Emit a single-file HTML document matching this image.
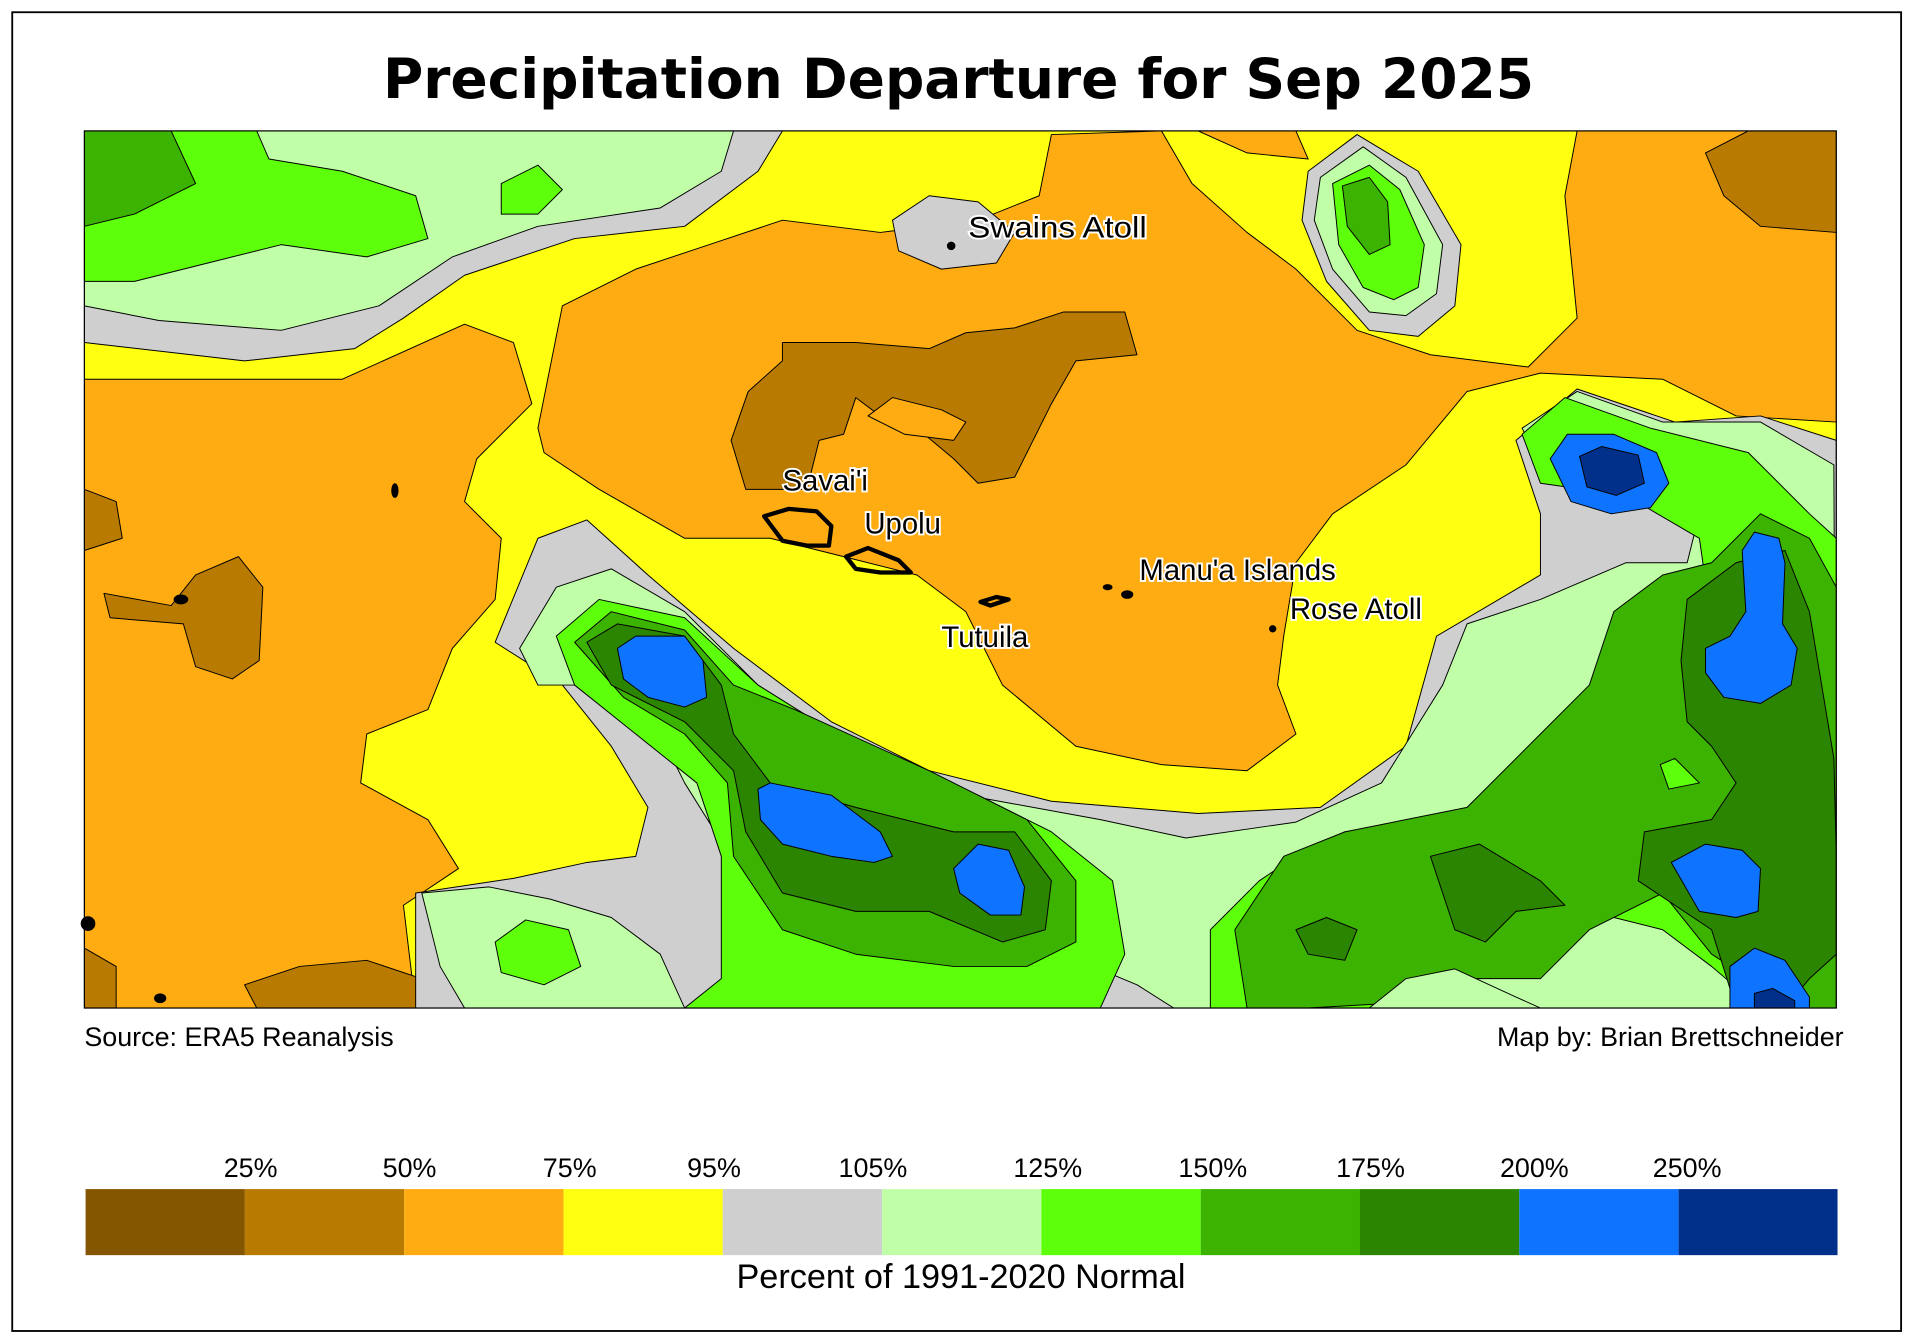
<!DOCTYPE html>
<html><head><meta charset="utf-8"><style>html,body{margin:0;padding:0;background:#fff}svg{display:block}</style></head><body>
<svg width="1917" height="1342" viewBox="0 0 1568 1097" preserveAspectRatio="none" xmlns="http://www.w3.org/2000/svg">
<rect x="0" y="0" width="1568" height="1097" fill="#fff"/>
<rect x="10" y="10" width="1545" height="1078" fill="none" stroke="#000" stroke-width="1.5"/>
<text x="784" y="80" text-anchor="middle" font-family="DejaVu Sans, Liberation Sans, sans-serif" font-weight="bold" font-size="45">Precipitation Departure for Sep 2025</text>
<defs><clipPath id="m"><rect x="69" y="107" width="1433" height="717"/></clipPath></defs>
<g clip-path="url(#m)" stroke="#000" stroke-width="0.8" stroke-linejoin="round">
<rect x="69" y="107" width="1433" height="717" fill="#ffff12" stroke="none"/>
<path fill="#cfcfcf" d="M69,107 L640,107 L620,140 L560,185 L470,195 L380,225 L330,260 L290,285 L200,295 L69,280 Z"/>
<path fill="#c0ffa8" d="M69,107 L600,107 L590,140 L540,170 L440,185 L370,210 L310,250 L230,270 L130,262 L69,250 Z"/>
<path fill="#5dff0a" d="M69,107 L210,107 L220,130 L280,140 L340,160 L350,195 L300,210 L230,200 L170,215 L110,230 L69,230 Z"/>
<path fill="#5dff0a" d="M410,150 L440,135 L460,155 L440,175 L410,175 Z"/>
<path fill="#3cb300" d="M69,107 L140,107 L160,150 L110,175 L69,185 Z"/>
<path fill="#ffac12" d="M69,310 L280,310 L380,265 L420,280 L435,330 L390,375 L380,410 L410,440 L405,490 L370,530 L350,580 L300,600 L295,640 L350,670 L375,710 L330,740 L340,824 L69,824 Z"/>
<path fill="#ffac12" d="M440,350 L460,250 L520,220 L580,200 L640,180 L720,190 L800,180 L850,160 L860,110 L950,107 L975,150 L1020,190 L1060,220 L1110,270 L1170,290 L1250,300 L1290,260 L1280,160 L1290,107 L1502,107 L1502,345 L1420,340 L1360,310 L1260,305 L1200,320 L1150,380 L1090,420 L1060,460 L1050,520 L1045,560 L1060,600 L1020,630 L950,625 L880,610 L820,560 L790,500 L750,470 L690,455 L630,440 L560,440 L490,400 L445,370 Z"/>
<path fill="#ffac12" d="M980,107 L1060,107 L1070,130 L1020,125 Z"/>
<path fill="#cfcfcf" d="M730,180 L760,160 L800,165 L830,190 L815,215 L770,220 L735,205 Z"/>
<path fill="#cfcfcf" d="M1070,140 L1110,110 L1160,140 L1195,200 L1190,250 L1160,275 L1120,270 L1085,230 L1065,180 Z"/>
<path fill="#c0ffa8" d="M1080,145 L1115,120 L1150,145 L1180,200 L1175,240 L1150,258 L1120,255 L1090,220 L1075,180 Z"/>
<path fill="#5dff0a" d="M1090,150 L1120,135 L1145,155 L1165,200 L1160,235 L1140,245 L1115,235 L1095,200 Z"/>
<path fill="#3cb300" d="M1098,152 L1120,145 L1135,165 L1137,200 L1120,208 L1102,185 Z"/>
<path fill="#b87a00" d="M1395,125 L1430,107 L1502,107 L1502,190 L1440,185 L1410,160 Z"/>
<path fill="#b87a00" d="M598,360 L612,320 L640,295 L640,280 L700,280 L760,285 L790,272 L830,268 L870,255 L920,255 L930,290 L880,295 L860,330 L830,390 L800,395 L780,375 L750,350 L720,340 L700,325 L690,355 L670,360 L660,400 L610,400 Z"/>
<path fill="#ffac12" d="M710,340 L730,325 L770,335 L790,345 L780,360 L740,355 Z"/>
<path fill="#b87a00" d="M69,400 L95,410 L100,440 L69,450 Z"/>
<path fill="#b87a00" d="M85,485 L140,495 L160,470 L195,455 L215,480 L212,540 L190,555 L160,545 L150,510 L90,505 Z"/>
<path fill="#b87a00" d="M200,805 L245,790 L300,785 L345,800 L380,824 L210,824 Z"/>
<path fill="#b87a00" d="M69,775 L95,790 L95,824 L69,824 Z"/>
<path fill="#cfcfcf" d="M405,525 L440,440 L480,425 L530,470 L600,530 L680,590 L760,630 L860,655 L980,665 L1080,660 L1150,610 L1175,520 L1260,470 L1260,420 L1240,360 L1290,318 L1370,345 L1440,340 L1502,360 L1502,824 L340,824 L340,730 L420,718 L480,705 L520,700 L530,660 L500,610 L460,560 Z"/>
<path fill="#c0ffa8" d="M425,530 L455,480 L500,465 L560,500 L620,560 L700,610 L790,650 L900,670 L970,685 L1060,672 L1130,640 L1180,560 L1200,510 L1260,490 L1330,460 L1380,460 L1390,420 L1330,390 L1260,380 L1245,350 L1290,320 L1360,345 L1440,345 L1500,380 L1502,824 L960,824 L930,805 L870,780 L800,760 L700,760 L620,720 L585,680 L560,640 L540,600 L480,560 L440,560 Z"/>
<path fill="#c0ffa8" d="M345,730 L400,725 L450,735 L500,750 L540,780 L560,824 L380,824 L360,790 Z"/>
<path fill="#5dff0a" d="M405,770 L430,752 L465,760 L475,790 L445,805 L410,795 Z"/>
<path fill="#5dff0a" d="M455,520 L490,490 L560,505 L620,560 L700,610 L800,650 L860,680 L910,720 L920,780 L900,824 L990,824 L990,760 L1030,720 L1060,700 L1100,680 L1170,670 L1260,640 L1280,600 L1330,560 L1340,500 L1395,475 L1390,440 L1330,405 L1260,395 L1245,355 L1280,325 L1350,350 L1430,370 L1480,420 L1502,440 L1502,824 L1440,824 L1400,790 L1360,760 L1300,745 L1240,760 L1180,800 L1160,824 L560,824 L590,800 L590,700 L570,640 L520,600 L470,560 Z"/>
<path fill="#3cb300" d="M470,525 L500,500 L560,515 L600,560 L650,580 L760,630 L840,670 L880,720 L880,770 L840,790 L780,790 L700,780 L640,760 L600,700 L595,640 L560,600 L510,570 Z"/>
<path fill="#3cb300" d="M1010,760 L1050,700 L1100,680 L1200,660 L1260,600 L1300,560 L1320,500 L1360,470 L1400,460 L1440,420 L1480,440 L1502,480 L1502,824 L1470,824 L1400,780 L1360,730 L1300,760 L1260,800 L1200,800 L1140,820 L1070,824 L1020,824 Z"/>
<path fill="#2b8500" d="M480,525 L505,510 L560,520 L590,560 L600,600 L630,640 L700,660 L780,680 L830,680 L860,720 L855,760 L820,770 L760,745 L700,745 L640,730 L610,680 L600,630 L560,590 L500,560 Z"/>
<path fill="#2b8500" d="M1375,540 L1380,490 L1420,460 L1460,450 L1480,500 L1490,560 L1500,620 L1502,700 L1502,780 L1480,800 L1460,824 L1420,824 L1400,760 L1370,740 L1340,720 L1345,680 L1400,670 L1420,640 L1400,610 L1380,590 Z"/>
<path fill="#2b8500" d="M1170,700 L1210,690 L1260,720 L1280,740 L1240,745 L1215,770 L1190,760 Z"/>
<path fill="#2b8500" d="M1060,760 L1085,750 L1110,760 L1100,785 L1070,780 Z"/>
<path fill="#5dff0a" d="M1358,625 L1370,620 L1390,640 L1365,645 Z"/>
<path fill="#c0ffa8" d="M1120,824 L1150,800 L1190,792 L1240,815 L1260,824 Z"/>
<path fill="#0e74ff" d="M505,530 L520,520 L560,520 L575,540 L578,570 L560,578 L530,570 L510,555 Z"/>
<path fill="#0e74ff" d="M620,645 L630,640 L680,650 L720,680 L730,700 L715,705 L680,700 L640,690 L622,670 Z"/>
<path fill="#0e74ff" d="M780,710 L800,690 L825,695 L838,725 L835,748 L810,748 L785,730 Z"/>
<path fill="#0e74ff" d="M1268,375 L1282,355 L1320,355 L1355,370 L1365,395 L1350,415 L1318,420 L1285,410 Z"/>
<path fill="#00308a" d="M1292,373 L1310,365 L1340,372 L1345,395 L1322,405 L1298,398 Z"/>
<path fill="#0e74ff" d="M1425,450 L1435,435 L1455,440 L1460,460 L1458,510 L1470,530 L1465,560 L1440,575 L1410,570 L1395,550 L1395,530 L1415,520 L1428,500 Z"/>
<path fill="#0e74ff" d="M1367,705 L1395,690 L1425,695 L1440,710 L1438,745 L1420,750 L1390,745 Z"/>
<path fill="#0e74ff" d="M1415,790 L1435,775 L1460,785 L1480,815 L1480,824 L1415,824 Z"/>
<path fill="#00308a" d="M1435,812 L1450,808 L1468,818 L1468,824 L1435,824 Z"/>
</g>
<rect x="69" y="107" width="1433" height="717" fill="none" stroke="#000" stroke-width="1"/>
<g fill="none" stroke="#000" stroke-width="3.5" stroke-linejoin="round">
<path d="M625,422 L645,416 L668,418 L680,430 L678,446 L660,446 L640,442 Z"/>
<path d="M692,455 L710,448 L735,458 L745,468 L720,468 L700,465 Z"/>
<path d="M802,492 L815,488 L825,490 L810,495 Z"/>
</g>
<g fill="#000"><circle cx="778" cy="201" r="3.5"/><circle cx="1041" cy="514" r="3"/><ellipse cx="906" cy="480" rx="4" ry="2.5"/><ellipse cx="922" cy="486" rx="5" ry="3.5"/><ellipse cx="148" cy="490" rx="6" ry="4"/><ellipse cx="323" cy="401" rx="3" ry="6"/><ellipse cx="131" cy="816" rx="5" ry="4"/><circle cx="72" cy="755" r="6"/></g>
<g font-family="Liberation Sans, sans-serif" font-size="24" stroke="#fff" stroke-width="3" paint-order="stroke" fill="#000">
<text x="792" y="194" textLength="146" lengthAdjust="spacingAndGlyphs">Swains Atoll</text>
<text x="640" y="401">Savai'i</text>
<text x="707" y="436">Upolu</text>
<text x="932" y="474">Manu'a Islands</text>
<text x="1055" y="506">Rose Atoll</text>
<text x="770" y="529">Tutuila</text>
</g>
<g font-family="Liberation Sans, sans-serif" font-size="22" fill="#000">
<text x="69" y="855">Source: ERA5 Reanalysis</text>
<text x="1508" y="855" text-anchor="end">Map by: Brian Brettschneider</text>
<text x="205" y="962" text-anchor="middle">25%</text>
<text x="335" y="962" text-anchor="middle">50%</text>
<text x="466" y="962" text-anchor="middle">75%</text>
<text x="584" y="962" text-anchor="middle">95%</text>
<text x="714" y="962" text-anchor="middle">105%</text>
<text x="857" y="962" text-anchor="middle">125%</text>
<text x="992" y="962" text-anchor="middle">150%</text>
<text x="1121" y="962" text-anchor="middle">175%</text>
<text x="1255" y="962" text-anchor="middle">200%</text>
<text x="1380" y="962" text-anchor="middle">250%</text>
</g>
<g>
<rect x="70" y="972" width="130.3" height="54" fill="#855600"/>
<rect x="200.3" y="972" width="130.3" height="54" fill="#b87a00"/>
<rect x="330.6" y="972" width="130.3" height="54" fill="#ffac12"/>
<rect x="460.9" y="972" width="130.3" height="54" fill="#ffff12"/>
<rect x="591.2" y="972" width="130.3" height="54" fill="#cfcfcf"/>
<rect x="721.5" y="972" width="130.3" height="54" fill="#c0ffa8"/>
<rect x="851.8" y="972" width="130.3" height="54" fill="#5dff0a"/>
<rect x="982.1" y="972" width="130.3" height="54" fill="#3cb300"/>
<rect x="1112.4" y="972" width="130.3" height="54" fill="#2b8500"/>
<rect x="1242.7" y="972" width="130.3" height="54" fill="#0e74ff"/>
<rect x="1373" y="972" width="130" height="54" fill="#00308a"/>
</g>
<text x="786" y="1053" text-anchor="middle" font-family="Liberation Sans, sans-serif" font-size="28">Percent of 1991-2020 Normal</text>
</svg>
</body></html>
